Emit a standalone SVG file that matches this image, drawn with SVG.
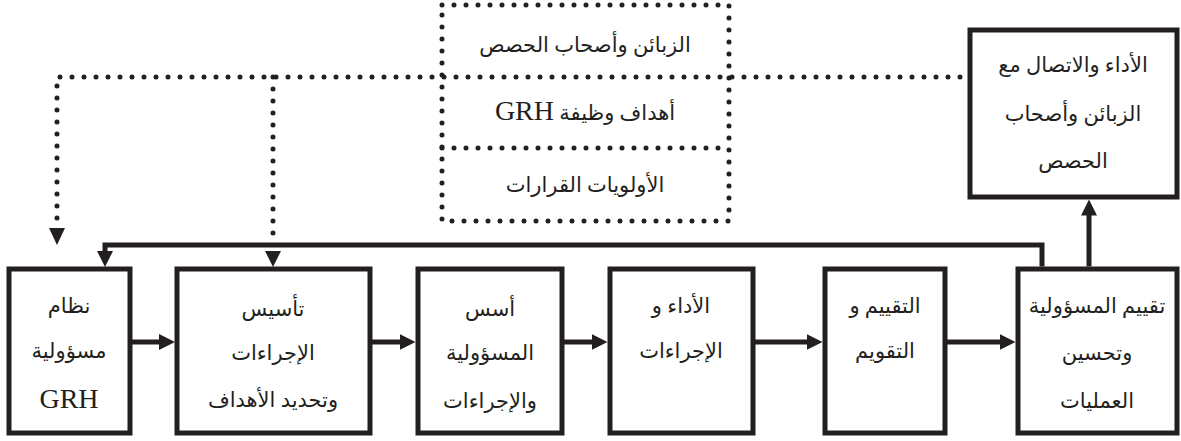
<svg xmlns="http://www.w3.org/2000/svg" width="1181" height="441" viewBox="0 0 1181 441">
  <style>
    .box { fill: #fff; stroke: #231f20; stroke-width: 5; }
    .dot { fill: none; stroke: #231f20; stroke-width: 5; stroke-linecap: round; stroke-dasharray: 0 12; }
    .wire { fill: none; stroke: #231f20; stroke-width: 5; }
    .head { fill: #231f20; }
    text { font-family: "Liberation Serif", "DejaVu Serif", "DejaVu Sans", serif; font-size: 21px; fill: #231f20; text-anchor: middle; direction: rtl; }
    .lat { font-family: "Liberation Serif", serif; font-size: 28px; }
  </style>
  <defs>
    <marker id="arrow" viewBox="0 0 16 16" refX="6" refY="8" markerWidth="16" markerHeight="16" markerUnits="userSpaceOnUse" orient="auto">
      <path d="M0,0 L16,8 L0,16 z" fill="#231f20"/>
    </marker>
  </defs>

  <!-- dotted information frame -->
  <g id="info">
    <rect class="dot" x="442" y="5" width="287" height="216"/>
    <line class="dot" x1="442" y1="148" x2="729" y2="148"/>
    <text x="585" y="52">الزبائن وأصحاب الحصص</text>
    <text x="585" y="120">أهداف وظيفة <tspan class="lat">GRH</tspan></text>
    <text x="585" y="192">الأولويات القرارات</text>
  </g>

  <!-- connectors -->
  <g id="connectors">
    <!-- dotted feedback lines -->
    <path class="dot" d="M960,77 H57 V222"/>
    <path class="dot" d="M273,77 V234"/>
    <polygon class="head" points="49,228 65,228 57,245"/>
    <polygon class="head" points="265,251 281,251 273,267"/>
    <!-- solid feedback loop -->
    <path class="wire" d="M1042,266.5 V245 H105 V257" marker-end="url(#arrow)"/>
    <!-- main chain -->
    <line class="wire" x1="130" y1="342" x2="165" y2="342" marker-end="url(#arrow)"/>
    <line class="wire" x1="370" y1="342" x2="405.5" y2="342" marker-end="url(#arrow)"/>
    <line class="wire" x1="562" y1="342" x2="597.5" y2="342" marker-end="url(#arrow)"/>
    <line class="wire" x1="753" y1="342" x2="812.5" y2="342" marker-end="url(#arrow)"/>
    <line class="wire" x1="945" y1="342" x2="1005.5" y2="342" marker-end="url(#arrow)"/>
    <line class="wire" x1="1089" y1="266.5" x2="1089" y2="209.5" marker-end="url(#arrow)"/>
  </g>

  <g id="top">
    <rect class="box" x="970" y="30" width="207" height="167"/>
    <text x="1073" y="72">الأداء والاتصال مع</text>
    <text x="1073" y="121">الزبائن وأصحاب</text>
    <text x="1073" y="168">الحصص</text>
  </g>

  <g id="n1">
    <rect class="box" x="9" y="269" width="121" height="164"/>
    <text x="69" y="313">نظام</text>
    <text x="69" y="358">مسؤولية</text>
    <text class="lat" x="69" y="408">GRH</text>
  </g>

  <g id="n2">
    <rect class="box" x="177" y="269" width="193" height="164"/>
    <text x="273" y="316">تأسيس</text>
    <text x="273" y="360">الإجراءات</text>
    <text x="273" y="407">وتحديد الأهداف</text>
  </g>

  <g id="n3">
    <rect class="box" x="418" y="269" width="144" height="164"/>
    <text x="490" y="316">أسس</text>
    <text x="490" y="360">المسؤولية</text>
    <text x="490" y="408">والإجراءات</text>
  </g>

  <g id="n4">
    <rect class="box" x="610" y="269" width="143" height="164"/>
    <text x="681" y="313">الأداء و</text>
    <text x="681" y="358">الإجراءات</text>
  </g>

  <g id="n5">
    <rect class="box" x="825" y="269" width="120" height="164"/>
    <text x="885" y="313">التقييم و</text>
    <text x="885" y="358">التقويم</text>
  </g>

  <g id="n6">
    <rect class="box" x="1018" y="269" width="159" height="164"/>
    <text x="1097" y="313">تقييم المسؤولية</text>
    <text x="1097" y="360">وتحسين</text>
    <text x="1097" y="408">العمليات</text>
  </g>
</svg>
